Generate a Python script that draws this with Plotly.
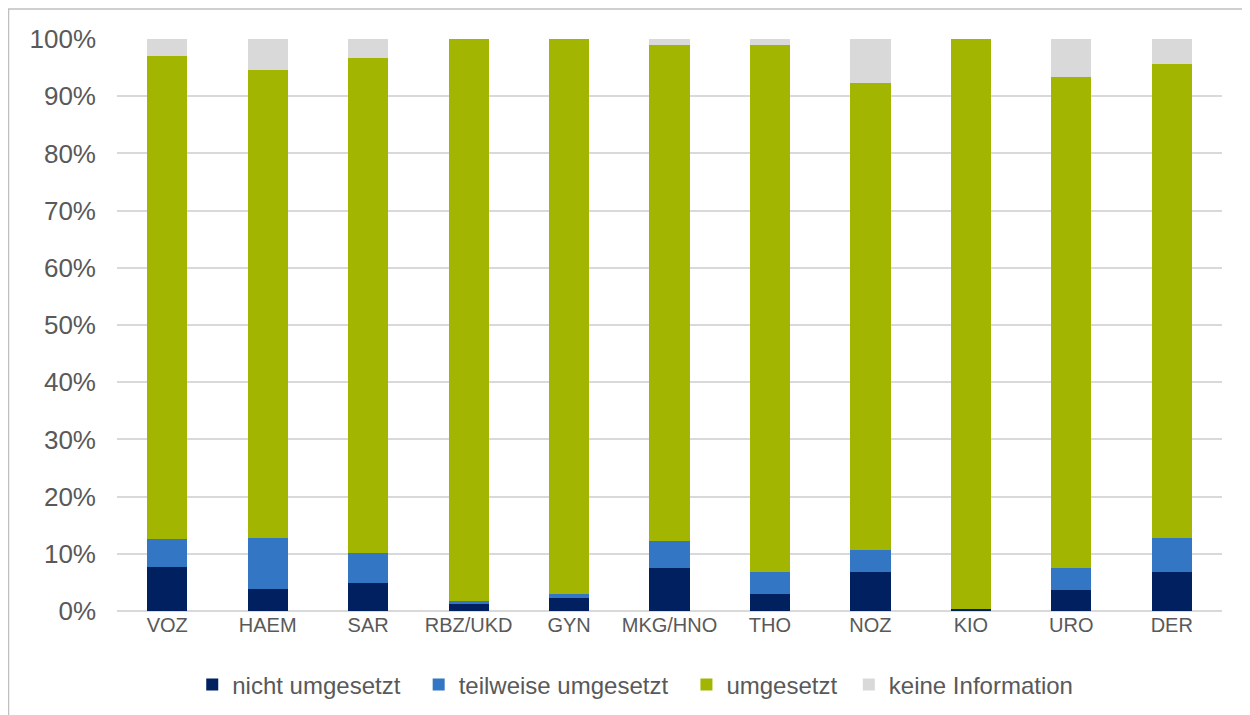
import plotly.graph_objects as go

categories = ["VOZ", "HAEM", "SAR", "RBZ/UKD", "GYN", "MKG/HNO", "THO", "NOZ", "KIO", "URO", "DER"]
nicht_umgesetzt = [7.7, 3.9, 4.9, 1.3, 2.2, 7.5, 2.9, 6.8, 0.4, 3.6, 6.8]
teilweise_umgesetzt = [4.9, 8.8, 5.2, 0.5, 0.7, 4.7, 4.0, 3.8, 0.0, 3.9, 6.0]
umgesetzt = [84.5, 81.8, 86.5, 98.2, 97.1, 86.8, 92.1, 81.7, 99.6, 85.8, 82.8]
keine_information = [2.9, 5.5, 3.4, 0.0, 0.0, 1.0, 1.0, 7.7, 0.0, 6.7, 4.4]

NB = "\u00a0"
series = [
    ("nicht umgesetzt", nicht_umgesetzt, "#002060", NB * 2),
    ("teilweise umgesetzt", teilweise_umgesetzt, "#3276C4", NB * 2),
    ("umgesetzt", umgesetzt, "#A2B500", NB),
    ("keine Information", keine_information, "#D9D9D9", ""),
]

FONT = "Arial, 'Liberation Sans', sans-serif"
TXT = "#595959"

fig = go.Figure()
for name, vals, color, pad in series:
    fig.add_trace(go.Bar(
        x=categories, y=[v / 100 for v in vals], name=name + pad,
        marker=dict(color=color, line=dict(width=0)),
    ))

# page body has an 8px margin, so figure coordinates are screen - 8
W, H = 1242, 707
L, R, T, B = 109, 28, 31, 104

fig.update_layout(
    width=W, height=H, barmode="stack", bargap=0.6,
    margin=dict(l=L, r=R, t=T, b=B, pad=0, autoexpand=False),
    paper_bgcolor="white", plot_bgcolor="white",
    font=dict(family=FONT, color=TXT),
    showlegend=True,
    legend=dict(orientation="h", x=0.469, xanchor="center", y=-0.129, yanchor="middle",
                font=dict(size=24, color=TXT, family=FONT), traceorder="normal",
                itemwidth=30, tracegroupgap=0),
    xaxis=dict(showgrid=False, showline=False, ticks="", tickfont=dict(size=20, color=TXT),
               zeroline=False, automargin=False),
    yaxis=dict(range=[0, 1.0], tickvals=[i / 10 for i in range(11)], tickformat=".0%",
               showgrid=True, gridcolor="#D9D9D9", gridwidth=1.5, zeroline=True,
               zerolinecolor="#D9D9D9", zerolinewidth=1.5, automargin=False,
               tickfont=dict(size=26, color=TXT), ticks="", ticklabelstandoff=20),
)

pw = W - L - R
ph = H - T - B
def px_x(p):
    return (p - L) / pw
def px_y(p):
    return (H - B - p) / ph

fig.add_shape(type="line", xref="paper", yref="paper",
              x0=px_x(0), x1=px_x(1250), y0=px_y(1), y1=px_y(1),
              line=dict(color="#BFBFBF", width=1.5), layer="above")
fig.add_shape(type="line", xref="paper", yref="paper",
              x0=px_x(0.5), x1=px_x(0.5), y0=px_y(1), y1=px_y(720),
              line=dict(color="#BFBFBF", width=1.5), layer="above")

fig.write_html("out.html")
